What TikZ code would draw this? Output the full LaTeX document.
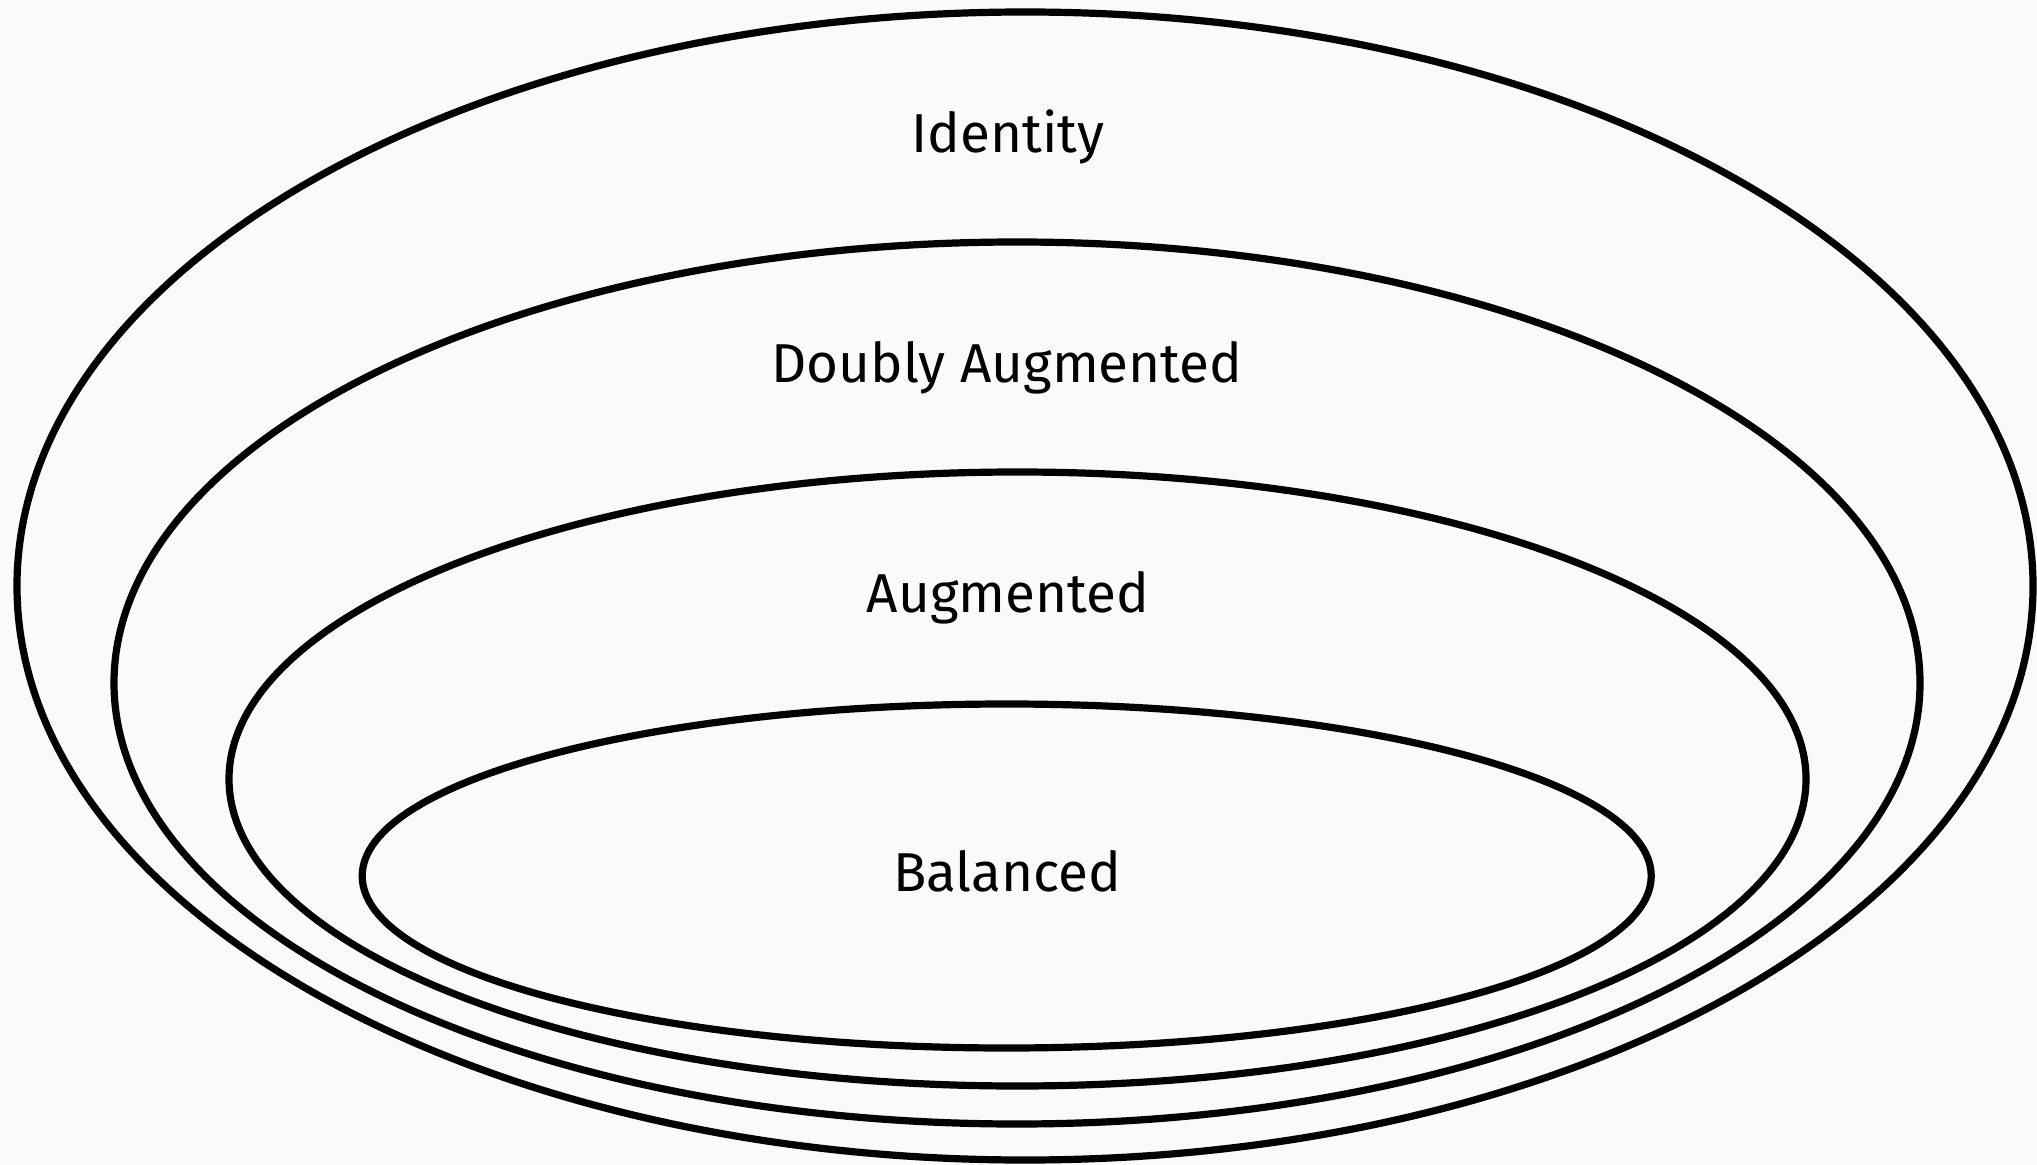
\documentclass[tikz,border=0pt]{standalone}
\usepackage{fontspec}
\setmainfont{Fira Sans}
\begin{document}
\begin{tikzpicture}[x=0.5pt,y=-0.5pt,
  ring/.style={draw=black,line width=3.6pt},
  lbl/.style={font=\fontsize{27.4}{31}\selectfont,text=black,inner sep=0pt}]
\fill[fill={rgb,255:red,250;green,250;blue,250}] (0,0) rectangle (2037,1165);
\useasboundingbox (0,0) rectangle (2037,1165);
\draw[ring] (1025,586) ellipse [x radius=1008, y radius=574];
\draw[ring] (1017,683) ellipse [x radius=903, y radius=441];
\draw[ring] (1017.5,779) ellipse [x radius=788.5, y radius=307];
\draw[ring] (1006.7,876) ellipse [x radius=644.5, y radius=172];
\node[lbl] (identity) at (1008,137) {Identity};
\node[lbl] (doubly) at (1007,368) {Doubly Augmented};
\node[lbl] (augmented) at (1008,598) {Augmented};
\node[lbl] (balanced) at (1007,871) {Balanced};
\end{tikzpicture}
\end{document}
